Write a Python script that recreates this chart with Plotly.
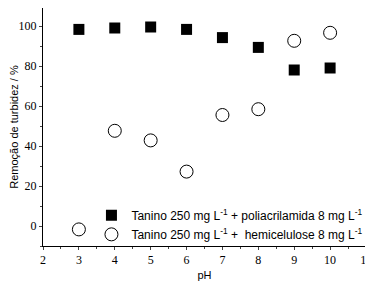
import plotly.graph_objects as go

ph = [3, 4, 5, 6, 7, 8, 9, 10]
poliacrilamida = [98.3, 99.0, 99.5, 98.3, 94.2, 89.3, 78.0, 79.0]
hemicelulose = [-1.7, 47.6, 42.8, 27.2, 55.5, 58.4, 92.6, 96.6]

x_ticks = [2, 3, 4, 5, 6, 7, 8, 9, 10, 11]
y_ticks = [0, 20, 40, 60, 80, 100]

fig = go.Figure()
fig.add_trace(go.Scatter(
    x=ph, y=poliacrilamida, mode="markers",
    name="Tanino 250 mg L<sup>-1</sup> + poliacrilamida 8 mg L<sup>-1</sup>",
    marker=dict(symbol="square", size=11, color="black", line=dict(width=0))))
fig.add_trace(go.Scatter(
    x=ph, y=hemicelulose, mode="markers",
    name="Tanino 250 mg L<sup>-1</sup> +  hemicelulose 8 mg L<sup>-1</sup>",
    marker=dict(symbol="circle-open", size=13, color="black", line=dict(width=1))))

fig.update_layout(
    width=365, height=276,
    margin=dict(l=35, r=7, t=0, b=38),
    paper_bgcolor="white", plot_bgcolor="white",
    showlegend=True,
    legend=dict(x=0.15, y=-0.012, xanchor="left", yanchor="bottom",
                bgcolor="rgba(0,0,0,0)", font=dict(family="Liberation Sans", size=12, color="black"),
                itemwidth=30, tracegroupgap=0),
    xaxis=dict(range=[2, 11], tickvals=x_ticks, ticks="outside", ticklen=3,
               tickfont=dict(family="Liberation Serif", size=12, color="black"),
               showline=True, linecolor="black", linewidth=1, mirror=True,
               showgrid=False, zeroline=False, automargin=False,
               minor=dict(ticks="outside", ticklen=2, dtick=0.5, showgrid=False),
               title=dict(text="pH", font=dict(family="Liberation Sans", size=11, color="black"), standoff=4)),
    yaxis=dict(range=[-10, 109], tickvals=y_ticks, ticks="outside", ticklen=3,
               tickfont=dict(family="Liberation Serif", size=12, color="black"),
               showline=True, linecolor="black", linewidth=1, mirror=True,
               showgrid=False, zeroline=False, automargin=False,
               minor=dict(ticks="outside", ticklen=2, dtick=10, showgrid=False),
               title=dict(text="Remoção de turbidez / %", font=dict(family="Liberation Sans", size=11, color="black"), standoff=5)),
)

fig.write_html("out.html")
